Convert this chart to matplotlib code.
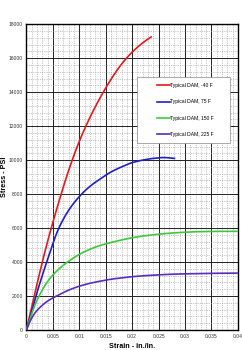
import numpy as np
from matplotlib import pyplot as plt
from matplotlib.ticker import MultipleLocator
from matplotlib.patches import Rectangle

plt.rcParams['font.family'] = ['Liberation Sans', 'DejaVu Sans']

# strain (in./in.) and stress (psi)
red_x = [0, 0.002, 0.004, 0.006, 0.008, 0.010, 0.012, 0.014, 0.016, 0.018, 0.020, 0.022, 0.0236]
red_y = [0, 2700, 5200, 7400, 9400, 11100, 12500, 13700, 14750, 15650, 16350, 16900, 17250]
blue_x = [0, 0.002, 0.004, 0.006, 0.008, 0.010, 0.012, 0.014, 0.016, 0.018, 0.020, 0.022, 0.024, 0.026, 0.028]
blue_y = [0, 2200, 4150, 5900, 7050, 7850, 8450, 8900, 9300, 9600, 9850, 10000, 10100, 10150, 10100]
green_x = [0, 0.001, 0.002, 0.004, 0.006, 0.008, 0.010, 0.012, 0.014, 0.016, 0.018, 0.020,
           0.022, 0.025, 0.028, 0.031, 0.034, 0.037, 0.040]
green_y = [0, 950, 1750, 2850, 3550, 4050, 4450, 4750, 4980, 5150, 5300, 5430,
           5530, 5640, 5720, 5770, 5800, 5810, 5810]
purple_x = [0, 0.001, 0.002, 0.004, 0.006, 0.008, 0.010, 0.012, 0.014, 0.016, 0.018, 0.020,
            0.024, 0.028, 0.032, 0.036, 0.040]
purple_y = [0, 700, 1150, 1700, 2050, 2350, 2580, 2750, 2880, 2990, 3070, 3140,
            3230, 3290, 3320, 3340, 3350]

labels = ['Typical DAM, -40 F', 'Typical DAM, 75 F', 'Typical DAM, 150 F', 'Typical DAM, 225 F']
colors = ['#e41a1c', '#1f1fc8', '#3cc83c', '#5a2cc0']


def smooth(xs, ys):
    # monotone cubic hermite through the read points
    xs = np.asarray(xs, float)
    ys = np.asarray(ys, float)
    n = len(xs)
    d = np.diff(ys) / np.diff(xs)
    m = np.zeros(n)
    m[0] = d[0]
    m[-1] = d[-1]
    for i in range(1, n - 1):
        if d[i - 1] * d[i] <= 0:
            m[i] = 0
        else:
            m[i] = 2 / (1 / d[i - 1] + 1 / d[i])
    out_x, out_y = [], []
    t = np.linspace(0, 1, 20)
    h00 = 2 * t**3 - 3 * t**2 + 1
    h10 = t**3 - 2 * t**2 + t
    h01 = -2 * t**3 + 3 * t**2
    h11 = t**3 - t**2
    for i in range(n - 1):
        h = xs[i + 1] - xs[i]
        out_x.extend(xs[i] + t * h)
        out_y.extend(h00 * ys[i] + h10 * h * m[i] + h01 * ys[i + 1] + h11 * h * m[i + 1])
    return out_x, out_y


fig = plt.figure(figsize=(2.42, 3.5), dpi=100)
ax = fig.add_axes([0.109, 0.057, 0.874, 0.874])

series = [(red_x, red_y), (blue_x, blue_y), (green_x, green_y), (purple_x, purple_y)]
for (xs, ys), lab, col in zip(series, labels, colors):
    sx, sy = smooth(xs, ys)
    ax.plot(sx, sy, color=col, lw=1.2, label=lab, zorder=3)

ax.set_xlim(0, 0.04)
ax.set_ylim(0, 18000)
ax.xaxis.set_minor_locator(MultipleLocator(0.001))
ax.yaxis.set_major_locator(MultipleLocator(2000))
ax.yaxis.set_minor_locator(MultipleLocator(400))
ax.set_xticks(np.arange(0, 0.0401, 0.005))
ax.set_xticklabels(['0', '0.005', '0.01', '0.015', '0.02', '0.025', '0.03', '0.035', '0.04'])
ax.grid(which='major', color='#222222', lw=0.7)
ax.grid(which='minor', color='#999999', lw=0.4, ls=(0, (2, 2)))
ax.tick_params(which='both', length=0, labelsize=3.6, pad=2.5, colors='#333333')
for s in ax.spines.values():
    s.set_linewidth(1.0)

ax.set_xlabel('Strain - in./in.', fontsize=5.2, fontweight='bold', labelpad=3)
ax.set_ylabel('Stress - PSI', fontsize=5.2, fontweight='bold')
ax.yaxis.set_label_coords(-0.088, 0.5)

# legend box
ax.add_patch(Rectangle((0.523, 0.611), 0.439, 0.216, transform=ax.transAxes,
                       facecolor='white', edgecolor='#888888', lw=0.5, zorder=4))
leg = ax.legend(loc='center left', bbox_to_anchor=(0.605, 0.719), fontsize=3.6,
                handlelength=2.6, labelspacing=2.25, borderpad=0, frameon=False,
                handletextpad=0.1)
leg.set_zorder(5)

plt.savefig('out.png', dpi=100, facecolor='white')
